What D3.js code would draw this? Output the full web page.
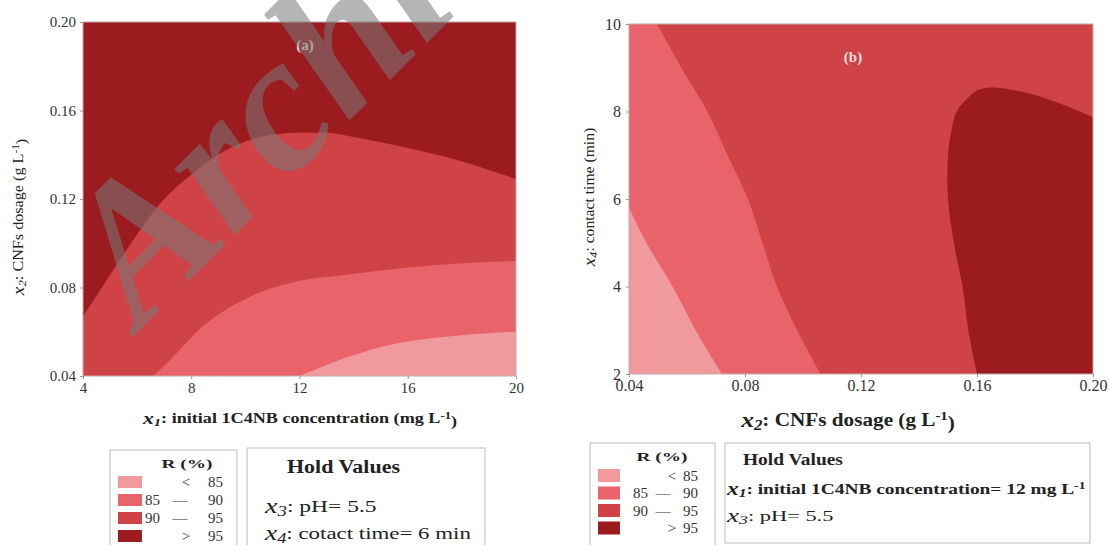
<!DOCTYPE html>
<html>
<head>
<meta charset="utf-8">
<script src="https://cdn.jsdelivr.net/npm/d3@7"></script>
<style>
  body { margin: 0; background: #fff; }
  svg { display: block; }
  text { font-family: "Liberation Serif", "DejaVu Serif", serif; }
</style>
</head>
<body>
<div id="chart"></div>
<script>
// ---------- data ----------
// response classes and their colours
const levels = ['<', '85-90', '90-95', '>'];
const levelColors = ['#f09a9d', '#e8646a', '#cf4347', '#9c1b1f'];

// panel (a): x1 (mg/L) vs x2 (g/L), contour boundaries as functions of x1
const aXTicks = [4, 8, 12, 16, 20];
const aYTicks = [0.04, 0.08, 0.12, 0.16, 0.20];
const a95x = [4, 4.7, 5.5, 7.0, 8, 9, 10, 11, 12, 13, 14, 16, 18, 20];
const a95y = [0.067, 0.080, 0.095, 0.120, 0.131, 0.140, 0.146, 0.149, 0.150, 0.150, 0.148, 0.143, 0.137, 0.129];
const a90x = [6.6, 7.2, 8.3, 10.2, 12, 13.9, 16, 18, 20];
const a90y = [0.040, 0.047, 0.061, 0.076, 0.083, 0.086, 0.089, 0.091, 0.092];
const a85x = [12, 13, 13.9, 15.7, 17.6, 20];
const a85y = [0.040, 0.045, 0.049, 0.055, 0.058, 0.060];

// panel (b): x2 (g/L) vs x4 (min), boundaries as functions of x4
const bXTicks = [0.04, 0.08, 0.12, 0.16, 0.20];
const bYTicks = [2, 4, 6, 8, 10];
const b85t = [2, 3, 4, 5, 5.8];
const b85x = [0.072, 0.063, 0.055, 0.046, 0.040];
const b90t = [2, 3, 4, 5, 6, 7, 8, 9, 10];
const b90x = [0.106, 0.098, 0.091, 0.086, 0.081, 0.074, 0.067, 0.058, 0.0497];
// >95 island: curved edge from the right frame, over the top and down to the bottom frame
const b95x = [0.200, 0.190, 0.180, 0.170, 0.165, 0.160, 0.156, 0.153, 0.151, 0.150, 0.150, 0.152, 0.155, 0.157, 0.160];
const b95t = [7.87, 8.15, 8.38, 8.52, 8.55, 8.48, 8.25, 8.0, 7.5, 7.0, 6.0, 5.0, 4.0, 3.0, 2];

const legendLeft = ['', '85', '90', ''];
const legendMid = ['<', '\u2014', '\u2014', '>'];
const legendRight = ['85', '90', '95', '95'];

// ---------- canvas ----------
const svg = d3.select('#chart').append('svg')
  .attr('width', 1110)
  .attr('height', 545);

const fmt2 = d3.format('.2f');

const styleAxis = (size)=>(g)=>{
  g.select('.domain').remove();
  g.selectAll('.tick line').attr('stroke', '#999');
  g.selectAll('.tick text')
    .attr('font-family', '"Liberation Serif", serif')
    .attr('font-size', size)
    .attr('fill', '#333');
};

// stretch a text horizontally so that it covers the width seen in the picture
const fitWidth = (t, x, y, width, rot)=>{
  const w = t.node().getBBox().width;
  t.attr('transform', `translate(${x}, ${y})${rot ? ' rotate(' + rot + ')' : ''} scale(${width / w}, 1)`);
  return t;
};

// ---------- panel (a) ----------
const xa = d3.scaleLinear().domain([4, 20]).range([83, 516]);
const ya = d3.scaleLinear().domain([0.04, 0.20]).range([376, 22]);
const ga = svg.append('g');

ga.append('rect')
  .attr('x', xa(4)).attr('y', ya(0.20))
  .attr('width', xa(20) - xa(4)).attr('height', ya(0.04) - ya(0.20))
  .attr('fill', levelColors[3]);

const areaA = (xs, ys)=>d3.area()
  .x((d, i)=>xa(xs[i]))
  .y0(ya(0.04))
  .y1((d, i)=>ya(ys[i]))
  .curve(d3.curveMonotoneX)(xs);

ga.append('path').attr('d', areaA(a95x, a95y)).attr('fill', levelColors[2]);
ga.append('path').attr('d', areaA(a90x, a90y)).attr('fill', levelColors[1]);
ga.append('path').attr('d', areaA(a85x, a85y)).attr('fill', levelColors[0]);

ga.append('rect')
  .attr('x', xa(4)).attr('y', ya(0.20))
  .attr('width', xa(20) - xa(4)).attr('height', ya(0.04) - ya(0.20))
  .attr('fill', 'none').attr('stroke', '#c8aaaa').attr('stroke-width', 1);

ga.append('g')
  .attr('transform', `translate(0, ${ya(0.04)})`)
  .call(d3.axisBottom(xa).tickValues(aXTicks).tickSize(3).tickPadding(3))
  .call(styleAxis(15));
ga.append('g')
  .attr('transform', `translate(${xa(4)}, 0)`)
  .call(d3.axisLeft(ya).tickValues(aYTicks).tickFormat(fmt2).tickSize(3).tickPadding(4))
  .call(styleAxis(15));

ga.append('text')
  .attr('x', 305).attr('y', 50)
  .attr('text-anchor', 'middle')
  .attr('font-size', 15).attr('font-weight', 'bold')
  .attr('fill', '#f4dede')
  .text('(a)');

// ---------- panel (b) ----------
const xb = d3.scaleLinear().domain([0.04, 0.20]).range([629, 1093]);
const yb = d3.scaleLinear().domain([2, 10]).range([374, 24]);
const gb = svg.append('g');

gb.append('rect')
  .attr('x', xb(0.04)).attr('y', yb(10))
  .attr('width', xb(0.20) - xb(0.04)).attr('height', yb(2) - yb(10))
  .attr('fill', levelColors[2]);

const areaB = (ts, xs)=>d3.area()
  .y((d, i)=>yb(ts[i]))
  .x0(xb(0.04))
  .x1((d, i)=>xb(xs[i]))
  .curve(d3.curveMonotoneY)(ts);

gb.append('path').attr('d', areaB(b90t, b90x)).attr('fill', levelColors[1]);
gb.append('path').attr('d', areaB(b85t, b85x)).attr('fill', levelColors[0]);

const islandEdge = d3.line()
  .x((d, i)=>xb(b95x[i]))
  .y((d, i)=>yb(b95t[i]))
  .curve(d3.curveCatmullRom.alpha(0.5))(b95x);
gb.append('path')
  .attr('d', `${islandEdge}L${xb(0.20)},${yb(2)}Z`)
  .attr('fill', levelColors[3]);

gb.append('rect')
  .attr('x', xb(0.04)).attr('y', yb(10))
  .attr('width', xb(0.20) - xb(0.04)).attr('height', yb(2) - yb(10))
  .attr('fill', 'none').attr('stroke', '#c8aaaa').attr('stroke-width', 1);

gb.append('g')
  .attr('transform', `translate(0, ${yb(2)})`)
  .call(d3.axisBottom(xb).tickValues(bXTicks).tickFormat(fmt2).tickSize(3).tickPadding(3))
  .call(styleAxis(16));
gb.append('g')
  .attr('transform', `translate(${xb(0.04)}, 0)`)
  .call(d3.axisLeft(yb).tickValues(bYTicks).tickSize(3).tickPadding(5))
  .call(styleAxis(16));

gb.append('text')
  .attr('x', 853).attr('y', 62)
  .attr('text-anchor', 'middle')
  .attr('font-size', 15).attr('font-weight', 'bold')
  .attr('fill', '#f4dede')
  .text('(b)');

// ---------- axis titles ----------
// writes "x<sub>n</sub>: rest" with optional L^-1 superscript
const varLabel = (t, sub, rest, sup, tail)=>{
  t.append('tspan').attr('font-style', 'italic').attr('font-size', '1.2em').text('x');
  t.append('tspan').attr('font-style', 'italic').attr('font-size', '0.8em').attr('dy', '0.2em').text(sub);
  t.append('tspan').attr('dy', '-0.2em').text(': ' + rest);
  if (sup) {
    t.append('tspan').attr('font-size', '0.7em').attr('dy', '-0.5em').text(sup);
    t.append('tspan').attr('dy', '0.5em').text(tail);
  }
  return t;
};

const txt = (size, weight, anchor)=>svg.append('text')
  .attr('font-size', size)
  .attr('font-weight', weight || 'normal')
  .attr('text-anchor', anchor || 'start')
  .attr('fill', '#222');

fitWidth(varLabel(txt(14, 'bold', 'middle'), '1', 'initial 1C4NB concentration (mg L', '-1', ')'), 300, 424, 316);
fitWidth(varLabel(txt(14, 'normal', 'middle'), '2', 'CNFs dosage (g L', '-1', ')'), 24, 217, 158, -90);
fitWidth(varLabel(txt(18, 'bold', 'middle'), '2', 'CNFs dosage (g L', '-1', ')'), 848, 427, 215);
fitWidth(varLabel(txt(14, 'normal', 'middle'), '4', 'contact time (min)'), 595, 197, 140, -90);

// ---------- legends ----------
const drawLegend = (x, y, w, sw, swH, step, titleX, leftX, dashX, signX, rightX)=>{
  const lg = svg.append('g');
  lg.append('rect').attr('x', x).attr('y', y).attr('width', w).attr('height', 130)
    .attr('fill', '#fff').attr('stroke', '#bbb');
  const title = lg.append('text').attr('text-anchor', 'middle')
    .attr('font-size', 13).attr('font-weight', 'bold').attr('fill', '#222').text('R (%)');
  fitWidth(title, titleX, y + 18, 51);
  levels.forEach((lv, i)=>{
    const cy = y + 26 + i * step;
    lg.append('rect').attr('x', x + 8).attr('y', cy).attr('width', sw).attr('height', swH)
      .attr('fill', levelColors[i]);
    const base = cy + swH / 2 + 5;
    const midX = (i === 0 || i === 3) ? signX : dashX;
    lg.append('text').attr('x', leftX).attr('y', base).attr('font-size', 15).attr('fill', '#333').text(legendLeft[i]);
    lg.append('text').attr('x', midX).attr('y', base).attr('text-anchor', 'middle').attr('font-size', 15).attr('fill', '#333').text(legendMid[i]);
    lg.append('text').attr('x', rightX).attr('y', base).attr('text-anchor', 'end').attr('font-size', 15).attr('fill', '#333').text(legendRight[i]);
  });
};

drawLegend(110, 450, 127, 24, 12, 18, 187, 145, 180, 186, 223);
drawLegend(590, 443, 125, 22, 13, 17.5, 662, 633, 663, 672, 698);

// hold value boxes
svg.append('rect').attr('x', 247).attr('y', 448).attr('width', 238).attr('height', 120)
  .attr('fill', '#fff').attr('stroke', '#bbb');
fitWidth(txt(18, 'bold').text('Hold Values'), 287, 473, 113);
fitWidth(varLabel(txt(17), '3', 'pH= 5.5'), 265, 513, 113);
fitWidth(varLabel(txt(17), '4', 'cotact time= 6 min'), 265, 540, 208);

svg.append('rect').attr('x', 725).attr('y', 443).attr('width', 365).attr('height', 100)
  .attr('fill', '#fff').attr('stroke', '#bbb');
fitWidth(txt(16, 'bold').text('Hold Values'), 743, 465, 100);
fitWidth(varLabel(txt(15, 'bold'), '1', 'initial 1C4NB concentration= 12 mg L', '-1', ''), 727, 495, 360);
fitWidth(varLabel(txt(15), '3', 'pH= 5.5'), 727, 522, 108);

// ---------- watermark ----------
svg.append('text')
  .attr('transform', 'translate(140, 330) rotate(-45)')
  .attr('font-size', 195)
  .attr('font-style', 'italic')
  .attr('font-weight', 'bold')
  .attr('fill', 'rgba(120,120,120,0.55)')
  .text('Archive');
</script>
</body>
</html>
